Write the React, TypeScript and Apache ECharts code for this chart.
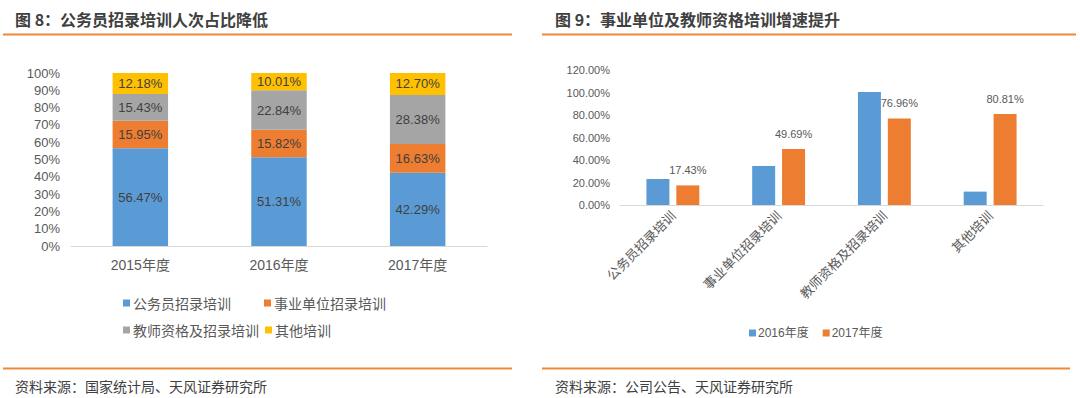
import React, { useEffect, useRef } from "react";
import * as echarts from "echarts";

const years = ["2015年度", "2016年度", "2017年度"];
const civilServant = [56.47, 51.31, 42.29];
const institution = [15.95, 15.82, 16.63];
const teacher = [15.43, 22.84, 28.38];
const otherShare = [12.18, 10.01, 12.7];
const leftTicks = [0, 100, 10];

const trainTypes = ["公务员招录培训", "事业单位招录培训", "教师资格及招录培训", "其他培训"];
const growth2016 = [23.1, 34.7, 100.5, 11.9];
const growth2017 = [17.43, 49.69, 76.96, 80.81];
const rightTicks = [0, 120, 20];

const FONT = '"Liberation Sans", Arial, "Noto Sans CJK SC", sans-serif';
const CJK = '"Noto Sans CJK SC", "Microsoft YaHei", sans-serif';
const BLUE = "#5B9BD5";
const ORANGE = "#ED7D31";
const GRAY = "#A5A5A5";
const YELLOW = "#FFC000";
const LINE = "#EC8A3C";
const TXT = "#595959";

export default function App() {
  const ref = useRef<HTMLDivElement>(null);
  useEffect(() => {
    if (!ref.current) return;
    const chart = echarts.init(ref.current, null, { renderer: "svg" });
    const stackLabel = {
      show: true,
      position: "inside",
      fontSize: 13,
      color: "#404040",
      fontFamily: FONT,
      formatter: (p: any) => p.value.toFixed(2) + "%",
    };
    const stackSeries = (name: string, data: number[], color: string) => ({
      name,
      type: "bar",
      stack: "s",
      xAxisIndex: 0,
      yAxisIndex: 0,
      barWidth: "40%",
      data,
      itemStyle: { color },
      label: stackLabel,
    });
    chart.setOption({
      animation: false,
      textStyle: { fontFamily: FONT },
      grid: [
        { left: 71, right: 593, top: 73, bottom: 152 },
        { left: 620, right: 37, top: 70, bottom: 193 },
      ],
      xAxis: [
        {
          gridIndex: 0,
          type: "category",
          data: years,
          axisLine: { lineStyle: { color: "#D9D9D9" } },
          axisTick: { show: false },
          axisLabel: { fontSize: 14, color: TXT, margin: 12, fontFamily: FONT },
        },
        {
          gridIndex: 1,
          type: "category",
          data: trainTypes,
          axisLine: { lineStyle: { color: "#D9D9D9" } },
          axisTick: { show: false },
          axisLabel: { fontSize: 13, color: TXT, rotate: 45, margin: 8, fontFamily: CJK },
        },
      ],
      yAxis: [
        {
          gridIndex: 0,
          type: "value",
          min: leftTicks[0],
          max: leftTicks[1],
          interval: leftTicks[2],
          axisLine: { show: false },
          axisTick: { show: false },
          splitLine: { show: false },
          axisLabel: { fontSize: 13, color: TXT, margin: 11, formatter: "{value}%" },
        },
        {
          gridIndex: 1,
          type: "value",
          min: rightTicks[0],
          max: rightTicks[1],
          interval: rightTicks[2],
          axisLine: { show: false },
          axisTick: { show: false },
          splitLine: { show: false },
          axisLabel: {
            fontSize: 11,
            color: TXT,
            margin: 10,
            formatter: (v: number) => v.toFixed(2) + "%",
          },
        },
      ],
      legend: [
        {
          data: ["公务员招录培训", "事业单位招录培训"],
          left: 118,
          top: 291,
          itemWidth: 7,
          itemHeight: 7,
          itemGap: 33,
          icon: "rect",
          textStyle: { fontSize: 14, color: TXT, fontFamily: CJK, padding: [0, 0, 0, -2] },
        },
        {
          data: ["教师资格及招录培训", "其他培训"],
          left: 118,
          top: 318,
          itemWidth: 7,
          itemHeight: 7,
          itemGap: 6,
          icon: "rect",
          textStyle: { fontSize: 14, color: TXT, fontFamily: CJK, padding: [0, 0, 0, -2] },
        },
        {
          data: ["2016年度", "2017年度"],
          left: 744,
          top: 322,
          itemWidth: 7,
          itemHeight: 7,
          itemGap: 14,
          icon: "rect",
          textStyle: { fontSize: 12, color: TXT, fontFamily: FONT, padding: [0, 0, 0, -3] },
        },
      ],
      series: [
        stackSeries("公务员招录培训", civilServant, BLUE),
        stackSeries("事业单位招录培训", institution, ORANGE),
        stackSeries("教师资格及招录培训", teacher, GRAY),
        stackSeries("其他培训", otherShare, YELLOW),
        {
          name: "2016年度",
          type: "bar",
          xAxisIndex: 1,
          yAxisIndex: 1,
          barWidth: 23,
          barGap: "30%",
          data: growth2016,
          itemStyle: { color: BLUE },
        },
        {
          name: "2017年度",
          type: "bar",
          xAxisIndex: 1,
          yAxisIndex: 1,
          barWidth: 23,
          barGap: "30%",
          data: growth2017,
          itemStyle: { color: ORANGE },
          label: {
            show: true,
            position: "top",
            distance: 10,
            fontSize: 11,
            color: TXT,
            formatter: (p: any) => p.value.toFixed(2) + "%",
          },
        },
      ],
      graphic: [
        {
          type: "text",
          left: 15,
          top: 11,
          style: {
            text: "图 8：公务员招录培训人次占比降低",
            fontSize: 16,
            fontWeight: "bold",
            fill: "#404040",
            fontFamily: CJK,
          },
        },
        {
          type: "text",
          left: 555,
          top: 11,
          style: {
            text: "图 9：事业单位及教师资格培训增速提升",
            fontSize: 16,
            fontWeight: "bold",
            fill: "#404040",
            fontFamily: CJK,
          },
        },
        { type: "line", shape: { x1: 3, y1: 34.5, x2: 512, y2: 34.5 }, style: { stroke: LINE, lineWidth: 2 } },
        { type: "line", shape: { x1: 542, y1: 34.5, x2: 1076, y2: 34.5 }, style: { stroke: LINE, lineWidth: 2 } },
        { type: "line", shape: { x1: 3, y1: 368.5, x2: 512, y2: 368.5 }, style: { stroke: LINE, lineWidth: 2 } },
        { type: "line", shape: { x1: 542, y1: 368.5, x2: 1070, y2: 368.5 }, style: { stroke: LINE, lineWidth: 2 } },
        {
          type: "text",
          left: 15,
          top: 379,
          style: { text: "资料来源：国家统计局、天风证券研究所", fontSize: 14, fill: "#404040", fontFamily: CJK },
        },
        {
          type: "text",
          left: 555,
          top: 379,
          style: { text: "资料来源：公司公告、天风证券研究所", fontSize: 14, fill: "#404040", fontFamily: CJK },
        },
      ],
    });
    return () => chart.dispose();
  }, []);
  return (
    <div
      ref={ref}
      style={{ position: "fixed", left: 0, top: 0, width: 1080, height: 398, background: "#fff" }}
    />
  );
}
